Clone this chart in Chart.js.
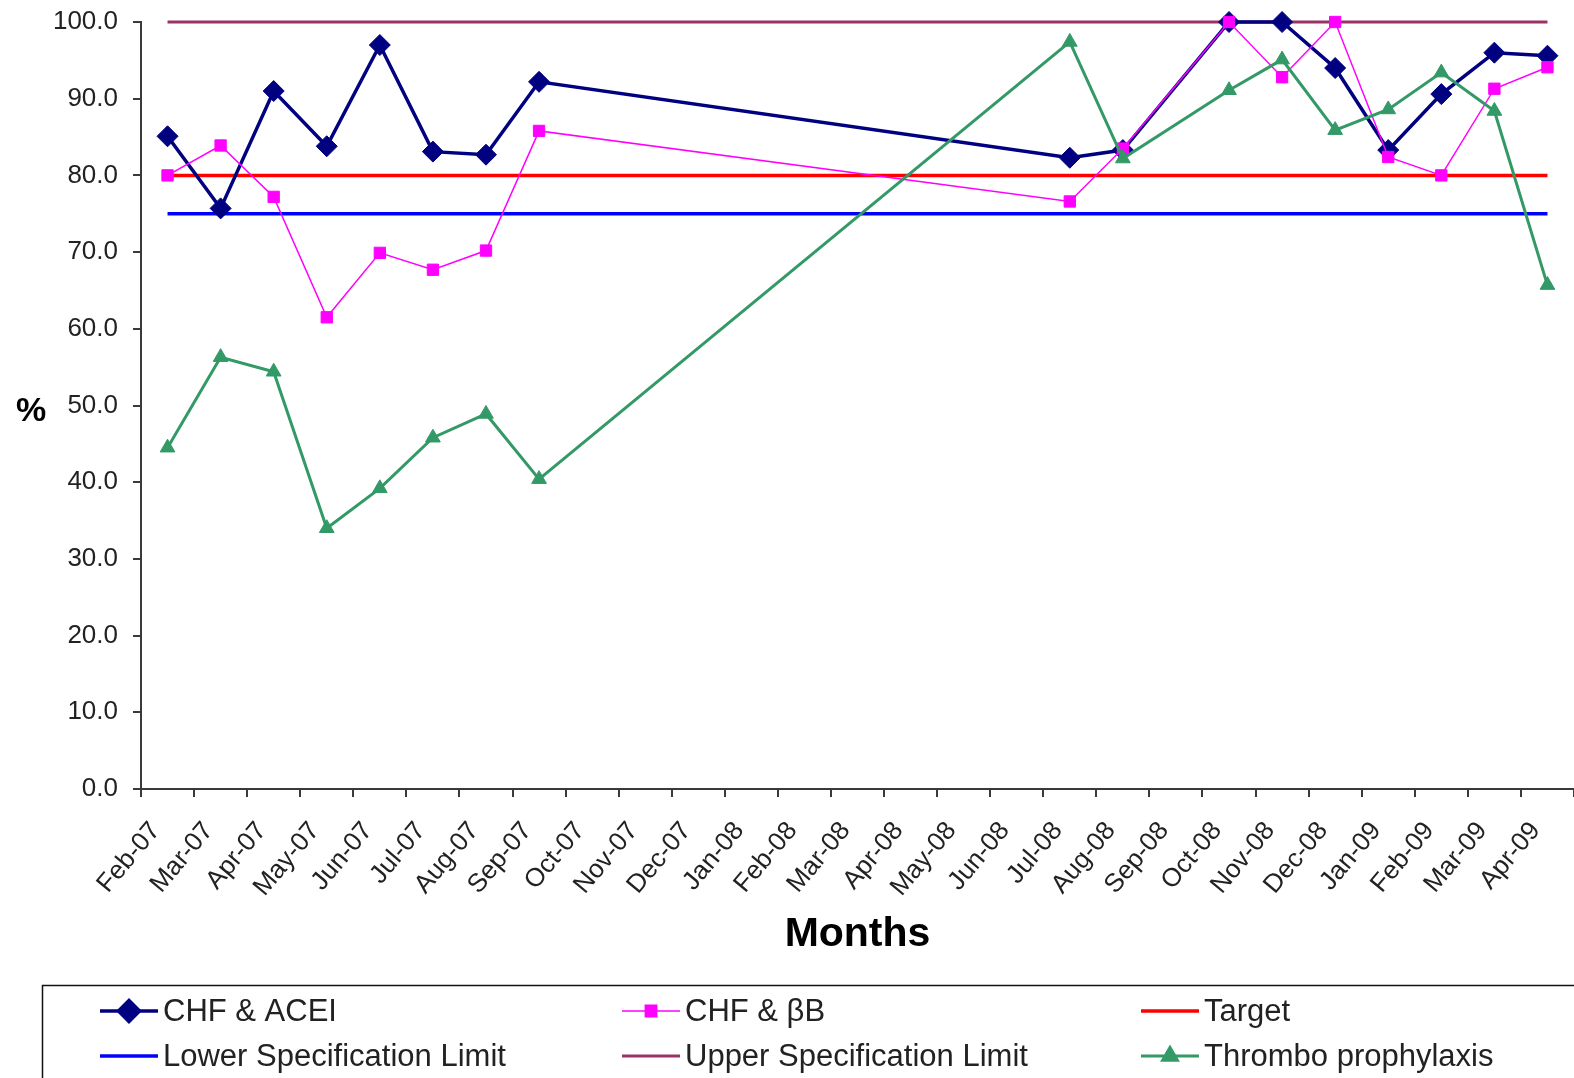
<!DOCTYPE html>
<html>
<head>
<meta charset="utf-8">
<script src="https://cdn.jsdelivr.net/npm/chart.js@4.4.1/dist/chart.umd.min.js"></script>
<style>
  html, body { margin: 0; padding: 0; background: #fff; overflow: hidden; }
  canvas { display: block; }
</style>
</head>
<body>
<canvas id="chart" width="1574" height="1078"></canvas>
<script>
// Monthly compliance (%) for heart-failure and thrombo-prophylaxis measures
const months = [
  'Feb-07', 'Mar-07', 'Apr-07', 'May-07', 'Jun-07', 'Jul-07', 'Aug-07', 'Sep-07',
  'Oct-07', 'Nov-07', 'Dec-07', 'Jan-08', 'Feb-08', 'Mar-08', 'Apr-08', 'May-08',
  'Jun-08', 'Jul-08', 'Aug-08', 'Sep-08', 'Oct-08', 'Nov-08', 'Dec-08', 'Jan-09',
  'Feb-09', 'Mar-09', 'Apr-09'
];

const chfAcei = [85.1, 75.7, 91.0, 83.8, 97.0, 83.1, 82.7, 92.2,
  null, null, null, null, null, null, null, null, null,
  82.3, 83.3, null, 100.0, 100.0, 94.0, 83.3, 90.6, 96.0, 95.6];

const chfBetaBlocker = [80.0, 83.9, 77.2, 61.5, 69.9, 67.7, 70.2, 85.8,
  null, null, null, null, null, null, null, null, null,
  76.6, 83.5, null, 100.0, 92.8, 100.0, 82.4, 80.0, 91.3, 94.1];

const thromboProphylaxis = [44.5, 56.3, 54.4, 34.0, 39.2, 45.8, 48.9, 40.4,
  null, null, null, null, null, null, null, null, null,
  97.4, 82.2, null, 91.1, 95.1, 85.9, 88.6, 93.4, 88.4, 65.7];

const targetLine = [80, 80, 80, 80, 80, 80, 80, 80, 80, 80, 80, 80, 80, 80,
  80, 80, 80, 80, 80, 80, 80, 80, 80, 80, 80, 80, 80];
const lowerSpecLimit = [75, 75, 75, 75, 75, 75, 75, 75, 75, 75, 75, 75, 75, 75,
  75, 75, 75, 75, 75, 75, 75, 75, 75, 75, 75, 75, 75];
const upperSpecLimit = [100, 100, 100, 100, 100, 100, 100, 100, 100, 100, 100, 100, 100, 100,
  100, 100, 100, 100, 100, 100, 100, 100, 100, 100, 100, 100, 100];

const yTicks = [0, 10, 20, 30, 40, 50, 60, 70, 80, 90, 100];

const FONT = '"Liberation Sans", Arial, sans-serif';
const AXIS_COLOR = '#3a3a3a';

// Unrotated "%" title on the left of the value axis
const percentTitle = {
  id: 'percentTitle',
  afterDraw(chart) {
    const { ctx, chartArea } = chart;
    ctx.save();
    ctx.font = 'bold 34px ' + FONT;
    ctx.fillStyle = '#000';
    ctx.textAlign = 'center';
    ctx.textBaseline = 'middle';
    ctx.fillText('%', 31, (chartArea.top + chartArea.bottom) / 2 + 6);
    ctx.restore();
  }
};

// Boxed three-column legend below the axis title
const boxedLegend = {
  id: 'boxedLegend',
  afterDraw(chart) {
    const { ctx } = chart;
    const cols = [100, 622, 1141];
    const rows = [1011, 1056];
    const sample = 58;
    ctx.save();
    ctx.strokeStyle = '#111';
    ctx.lineWidth = 1.5;
    ctx.strokeRect(42.5, 985.5, 1620, 200);
    chart.data.datasets.forEach((ds, i) => {
      const x = cols[i % 3];
      const y = rows[Math.floor(i / 3)];
      ctx.strokeStyle = ds.borderColor;
      ctx.lineWidth = ds.borderWidth;
      ctx.beginPath();
      ctx.moveTo(x, y);
      ctx.lineTo(x + sample, y);
      ctx.stroke();
      if (ds.pointRadius > 0) {
        ctx.fillStyle = ds.pointBackgroundColor;
        ctx.strokeStyle = ds.pointBorderColor;
        Chart.helpers.drawPoint(ctx, {
          pointStyle: ds.pointStyle,
          radius: ds.pointRadius,
          rotation: 0,
          borderWidth: 1
        }, x + sample / 2, y);
      }
      ctx.font = '31px ' + FONT;
      ctx.fillStyle = '#222';
      ctx.textAlign = 'left';
      ctx.textBaseline = 'middle';
      ctx.fillText(ds.label, x + sample + 5, y + 1);
    });
    ctx.restore();
  }
};

function series(label, data, color, width, style, radius, order) {
  return {
    label, data, order,
    borderColor: color,
    backgroundColor: color,
    borderWidth: width,
    pointStyle: style,
    pointRadius: radius,
    pointBackgroundColor: color,
    pointBorderColor: color,
    pointBorderWidth: 1,
    tension: 0,
    spanGaps: true,
    clip: false
  };
}

new Chart(document.getElementById('chart'), {
  type: 'line',
  data: {
    labels: months,
    datasets: [
      series('CHF & ACEI', chfAcei, '#000080', 3.5, 'rectRot', 10.5, 3),
      series('CHF & \u03B2B', chfBetaBlocker, '#FF00FF', 1.5, 'rect', 8, 2),
      series('Target', targetLine, '#FF0000', 3.5, false, 0, 6),
      series('Lower Specification Limit', lowerSpecLimit, '#0000FF', 3.5, false, 0, 5),
      series('Upper Specification Limit', upperSpecLimit, '#993366', 3, false, 0, 4),
      series('Thrombo prophylaxis', thromboProphylaxis, '#339966', 3, 'triangle', 8.5, 1)
    ]
  },
  options: {
    responsive: false,
    animation: false,
    events: [],
    layout: {
      autoPadding: false,
      padding: { left: 0, right: 0, top: 22, bottom: 111 }
    },
    plugins: {
      legend: { display: false },
      tooltip: { enabled: false },
      title: { display: false }
    },
    scales: {
      x: {
        type: 'category',
        offset: true,
        grid: {
          offset: true,
          drawOnChartArea: false,
          drawTicks: true,
          tickLength: 8,
          color: AXIS_COLOR,
          lineWidth: 2
        },
        border: { color: AXIS_COLOR, width: 2 },
        ticks: {
          autoSkip: false,
          minRotation: 50,
          maxRotation: 50,
          padding: 19,
          labelOffset: -12,
          color: '#222',
          font: { family: FONT, size: 26 }
        },
        title: {
          display: true,
          text: 'Months',
          color: '#000',
          font: { family: FONT, size: 41, weight: 'bold' },
          padding: { top: 0, bottom: 8 }
        },
        afterFit(scale) {
          scale.height = 178;
          scale.paddingLeft = 0;
          scale.paddingRight = 0;
        }
      },
      y: {
        min: 0,
        max: 100,
        afterBuildTicks(scale) { scale.ticks = yTicks.map(v => ({ value: v })); },
        grid: {
          drawOnChartArea: false,
          drawTicks: true,
          tickLength: 8,
          color: AXIS_COLOR,
          lineWidth: 2
        },
        border: { color: AXIS_COLOR, width: 2 },
        ticks: {
          padding: 15,
          color: '#222',
          font: { family: FONT, size: 26 },
          callback: v => Number(v).toFixed(1)
        },
        afterFit(scale) {
          scale.width = 141;
          scale.paddingTop = 0;
          scale.paddingBottom = 0;
        }
      }
    }
  },
  plugins: [percentTitle, boxedLegend]
});
</script>
</body>
</html>
